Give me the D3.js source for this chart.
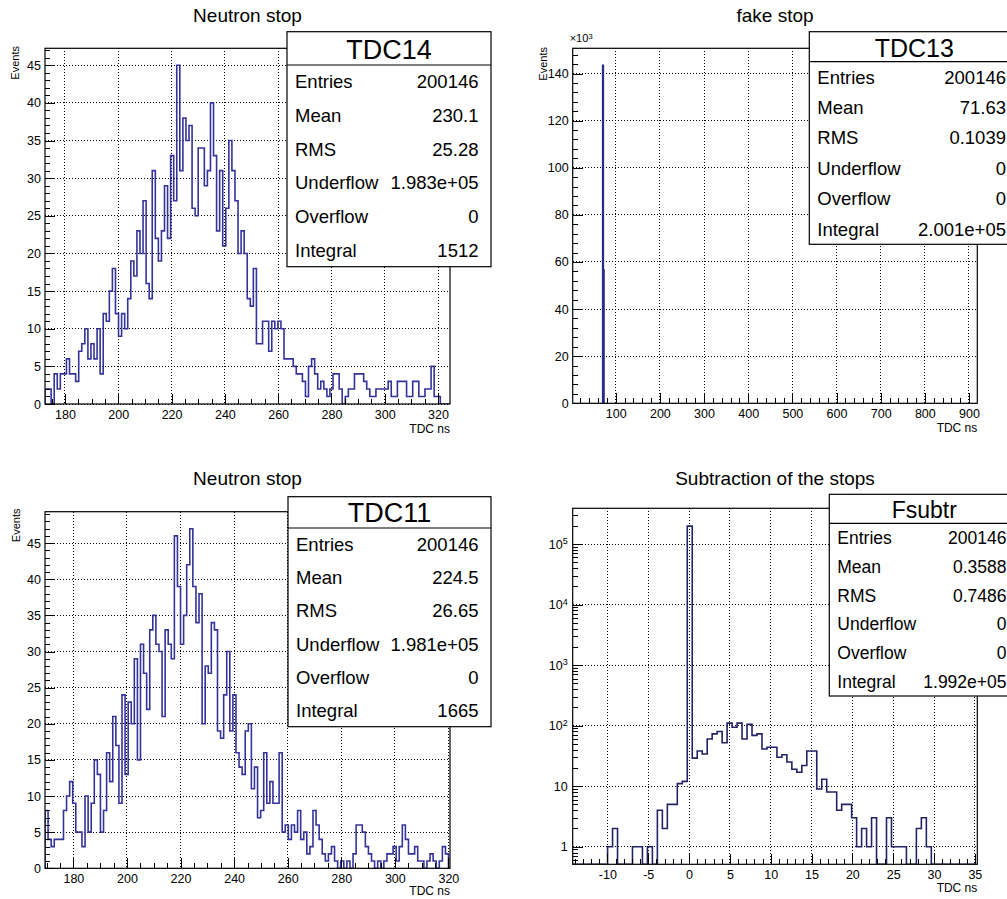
<!DOCTYPE html>
<html>
<head>
<meta charset="utf-8">
<script src="https://cdn.jsdelivr.net/npm/d3@7"></script>
<style>
  body { margin: 0; background: #fff; }
  svg { display: block; font-family: "Liberation Sans", Arial, Helvetica, sans-serif; }
  .grid { stroke: #000; stroke-width: 1; stroke-dasharray: 1 2; shape-rendering: crispEdges; }
  .tick line { stroke: #000; stroke-width: 1; shape-rendering: crispEdges; }
</style>
</head>
<body>
<svg id="canvas" width="1007" height="899"></svg>
<script>

// TDC14, neutron stop (bins of 1.15 ns)
const tdc14Lo = 172.5
const tdc14BinWidth = 1.15
const tdc14Counts = [
  2, 2, 0, 4, 2, 4, 4, 6, 4, 4,
  3, 7, 8, 10, 6, 8, 6, 10, 4, 12,
  11, 15, 18, 12, 9, 12, 10, 14, 19, 17,
  23, 20, 27, 16, 14, 31, 22, 19, 23, 29,
  22, 33, 27, 45, 31, 38, 35, 37, 26, 25,
  34, 34, 29, 31, 40, 33, 23, 31, 21, 26,
  35, 31, 27, 20, 23, 20, 14, 13, 18, 8,
  8, 11, 11, 7, 11, 10, 11, 10, 6, 6,
  6, 5, 4, 4, 3, 1, 5, 6, 4, 2,
  3, 2, 1, 2, 4, 4, 2, 0, 1, 2,
  2, 4, 4, 4, 3, 2, 1, 1, 2, 2,
  2, 2, 3, 1, 1, 3, 3, 3, 1, 1,
  3, 3, 1, 1, 2, 2, 5, 1, 1, 0,
  0, 0, 0
]
const tdc14Stats = ['200146', '230.1', '25.28', '1.983e+05', '0', '1512']

// TDC13, fake stop: everything sits in two bins
const tdc13Lo = 70.5
const tdc13BinWidth = 1.5
const tdc13Counts = [143500, 56600]
const tdc13Stats = ['200146', '71.63', '0.1039', '0', '0', '2.001e+05']

// TDC11, neutron stop
const tdc11Lo = 169.4
const tdc11BinWidth = 1.15
const tdc11Counts = [
  8, 4, 3, 4, 4, 4, 8, 10, 12, 9,
  5, 5, 3, 10, 5, 9, 15, 13, 5, 8,
  16, 12, 21, 17, 9, 24, 13, 23, 20, 29,
  15, 31, 27, 22, 33, 35, 31, 30, 21, 33,
  31, 29, 46, 39, 31, 35, 42, 47, 39, 34,
  38, 20, 28, 27, 34, 33, 19, 18, 24, 30,
  19, 24, 16, 14, 13, 19, 20, 11, 14, 7,
  8, 16, 9, 12, 9, 9, 16, 5, 6, 4,
  6, 5, 8, 4, 5, 2, 3, 8, 6, 4,
  2, 1, 2, 3, 1, 0, 1, 0, 1, 0,
  2, 6, 6, 5, 3, 2, 1, 0, 1, 0,
  1, 2, 2, 3, 1, 3, 6, 4, 2, 2,
  3, 1, 1, 0, 1, 2, 1, 0, 1, 3,
  2, 0
]
const tdc11Stats = ['200146', '224.5', '26.65', '1.981e+05', '0', '1665']

// Fsubtr, difference of the stops (log y)
const fsubLo = -14.25
const fsubBinWidth = 0.61
const fsubCounts = [
  0, 0, 0, 0, 0, 0, 0, 1, 2, 0,
  0, 0, 1, 1, 0, 1, 0, 4, 2, 5,
  5, 11, 12, 197700, 29, 38, 34, 60, 73, 80,
  52, 110, 94, 110, 60, 105, 69, 73, 41, 44,
  44, 30, 33, 25, 19, 17, 22, 38, 38, 9,
  13, 8, 8, 4, 5, 5, 3, 1, 2, 1,
  3, 0, 0, 3, 1, 1, 1, 0, 0, 2,
  3, 1, 0, 0, 0, 0, 0, 0, 0, 0,
  0
]
const fsubStats = ['200146', '0.3588', '0.7486', '0', '0', '1.992e+05']

const statLabels = ['Entries', 'Mean', 'RMS', 'Underflow', 'Overflow', 'Integral']

// ---- drawing ----
const svg = d3.select('#canvas')
svg.append('rect').attr('width', 1007).attr('height', 899).attr('fill', '#fff')

function histPoints(lo, w, counts) {
  const pts = [[lo, 0]]
  counts.forEach((c, i) => {
    pts.push([lo + i * w, c])
    pts.push([lo + (i + 1) * w, c])
  })
  pts.push([lo + counts.length * w, 0])
  return pts
}

function logMinor(lo, hi) {
  const t = []
  for (let k = -1; k <= 5; k++)
    for (let m = 2; m <= 9; m++) {
      const v = m * Math.pow(10, k)
      if (v >= lo && v <= hi) t.push(v)
    }
  return t
}

function drawPad(p, id) {
  const [fx0, fy0, fx1, fy1] = p.frame
  const g = svg.append('g')
  const x = d3.scaleLinear().domain(p.xDomain).range([fx0, fx1])
  const y = (p.log ? d3.scaleLog() : d3.scaleLinear()).domain(p.yDomain).range([fy1, fy0])
  const k = p.yFactor || 1
  const yv = v => p.log ? y(Math.max(v, p.yDomain[0])) : y(v / k)

  // title
  g.append('text').attr('x', (fx0 + fx1) / 2).attr('y', p.titleY)
    .attr('text-anchor', 'middle').attr('font-size', 19).text(p.title)

  // grid
  g.selectAll('line.gx').data(p.xMajor).enter().append('line').attr('class', 'grid')
    .attr('x1', d => x(d)).attr('x2', d => x(d)).attr('y1', fy0).attr('y2', fy1)
  g.selectAll('line.gy').data(p.yMajor).enter().append('line').attr('class', 'grid')
    .attr('x1', fx0).attr('x2', fx1).attr('y1', d => y(d)).attr('y2', d => y(d))

  // histogram
  g.append('clipPath').attr('id', 'clip' + id).append('rect')
    .attr('x', fx0).attr('y', fy0).attr('width', fx1 - fx0).attr('height', fy1 - fy0)
  const line = d3.line().x(d => x(d[0])).y(d => yv(d[1]))
  g.append('path').datum(histPoints(p.lo, p.width, p.counts))
    .attr('clip-path', `url(#clip${id})`)
    .attr('d', line).attr('fill', 'none')
    .attr('stroke', p.color).attr('stroke-width', 1.6)

  // frame
  g.append('rect').attr('x', fx0).attr('y', fy0).attr('width', fx1 - fx0).attr('height', fy1 - fy0)
    .attr('fill', 'none').attr('stroke', '#000').attr('stroke-width', 1.2)

  // axes, ticks inside the frame like ROOT
  const clean = s => { s.select('.domain').remove(); s.attr('font-family', null).attr('font-size', 12.5) }
  g.append('g').attr('transform', `translate(0,${fy1})`)
    .call(d3.axisBottom(x).tickValues(p.xMinor).tickSize(-5).tickFormat('')).call(clean)
  g.append('g').attr('transform', `translate(0,${fy1})`)
    .call(d3.axisBottom(x).tickValues(p.xMajor).tickSize(-10).tickPadding(6).tickFormat(d => String(d))).call(clean)
  g.append('g').attr('transform', `translate(${fx0},0)`)
    .call(d3.axisLeft(y).tickValues(p.yMinor).tickSize(-5).tickFormat('')).call(clean)
  const ya = g.append('g').attr('transform', `translate(${fx0},0)`)
    .call(d3.axisLeft(y).tickValues(p.yMajor).tickSize(-10).tickPadding(p.log ? 5 : 4).tickFormat(d => String(d))).call(clean)

  if (p.log) {
    ya.selectAll('.tick text').each(function (d) {
      if (d < 100) return
      const t = d3.select(this).text('10')
      t.append('tspan').attr('dy', '-0.5em').attr('font-size', 9).text(Math.round(Math.log10(d)))
    })
  }

  // axis titles
  g.append('text').attr('x', fx1).attr('y', p.xTitleY).attr('text-anchor', 'end')
    .attr('font-size', 12).text('TDC ns')
  if (p.yTitle) {
    g.append('text').attr('transform', `translate(${p.yTitle[0]},${p.yTitle[1]}) rotate(-90)`)
      .attr('text-anchor', 'end').attr('font-size', 11).text('Events')
  }
  if (p.yFactor) {
    const t = g.append('text').attr('x', fx0 - 3).attr('y', fy0 - 6).attr('font-size', 11).text('\u00d710')
    t.append('tspan').attr('dy', '-0.45em').attr('font-size', 8).text('3')
  }

  // stats box
  const b = p.box
  const sb = svg.append('g')
  sb.append('rect').attr('x', b.x).attr('y', b.y).attr('width', b.w).attr('height', b.h)
    .attr('fill', '#fff').attr('stroke', '#000').attr('stroke-width', 1.2)
  sb.append('line').attr('x1', b.x).attr('x2', b.x + b.w).attr('y1', b.head).attr('y2', b.head)
    .attr('stroke', '#000').attr('stroke-width', 1.2)
  sb.append('text').attr('x', b.x + b.w / 2).attr('y', b.titleBase).attr('text-anchor', 'middle')
    .attr('font-size', b.titleSize).text(p.name)
  const rowH = (b.y + b.h - b.head) / statLabels.length
  statLabels.forEach((lab, i) => {
    const cy = b.head + rowH * (i + 0.5) + b.fs * 0.36
    sb.append('text').attr('x', b.x + 8).attr('y', cy).attr('font-size', b.fs).text(lab)
    sb.append('text').attr('x', b.valX).attr('y', cy).attr('text-anchor', 'end')
      .attr('font-size', b.fs).text(p.stats[i])
  })
}

const pads = [
  {
    name: 'TDC14', title: 'Neutron stop', titleY: 22, frame: [45, 48.3, 450, 404], xTitleY: 433,
    xDomain: [172.5, 324.5], yDomain: [0, 47.25],
    xMajor: d3.range(180, 321, 20), xMinor: d3.range(175, 325, 5),
    yMajor: d3.range(0, 46, 5), yMinor: d3.range(0, 47.3, 1),
    lo: tdc14Lo, width: tdc14BinWidth, counts: tdc14Counts, stats: tdc14Stats,
    color: '#333399', yTitle: [19, 46],
    box: { x: 287, y: 31.7, w: 204, h: 235, head: 65, titleBase: 58.5, titleSize: 27, fs: 18.5, valX: 478.5 }
  },
  {
    name: 'TDC13', title: 'fake stop', titleY: 22, frame: [572.7, 48.3, 977.3, 403.3], xTitleY: 432,
    xDomain: [2.6, 918.8], yDomain: [0, 150.7], yFactor: 1000,
    xMajor: d3.range(100, 901, 100), xMinor: d3.range(20, 918, 20),
    yMajor: d3.range(0, 141, 20), yMinor: d3.range(0, 150.7, 4),
    lo: tdc13Lo, width: tdc13BinWidth, counts: tdc13Counts, stats: tdc13Stats,
    color: '#2a2a88', yTitle: [547, 47],
    box: { x: 809.3, y: 31.7, w: 210, h: 212.6, head: 61.7, titleBase: 56.5, titleSize: 25, fs: 18.5, valX: 1006 }
  },
  {
    name: 'TDC11', title: 'Neutron stop', titleY: 485, frame: [45, 511.7, 450, 868.3], xTitleY: 895,
    xDomain: [169.4, 320.6], yDomain: [0, 49.35],
    xMajor: d3.range(180, 321, 20), xMinor: d3.range(170, 321, 5),
    yMajor: d3.range(0, 46, 5), yMinor: d3.range(0, 49.4, 1),
    lo: tdc11Lo, width: tdc11BinWidth, counts: tdc11Counts, stats: tdc11Stats,
    color: '#333399', yTitle: [20, 508.5],
    box: { x: 288, y: 496.7, w: 203, h: 230, head: 528, titleBase: 522, titleSize: 27, fs: 18.5, valX: 478.5 }
  },
  {
    name: 'Fsubtr', title: 'Subtraction of the stops', titleY: 485, frame: [572.7, 508.3, 977.3, 864.3], xTitleY: 892,
    xDomain: [-14.25, 35.3], yDomain: [0.512, 3.89e5], log: true,
    xMajor: d3.range(-10, 36, 5), xMinor: d3.range(-14, 36, 1),
    yMajor: [1, 10, 100, 1e3, 1e4, 1e5], yMinor: logMinor(0.512, 3.89e5),
    lo: fsubLo, width: fsubBinWidth, counts: fsubCounts, stats: fsubStats,
    color: '#222266',
    box: { x: 829.3, y: 494.3, w: 190, h: 201.7, head: 523.3, titleBase: 517.5, titleSize: 23, fs: 17.5, valX: 1006.5 }
  }
]

pads.forEach((p, i) => drawPad(p, i))
</script>
</body>
</html>
